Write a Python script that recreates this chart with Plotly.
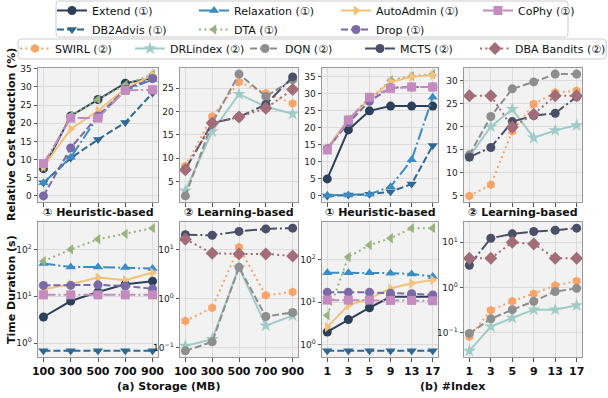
import plotly.graph_objects as go
import numpy as np

# ---------------- data ----------------
storage_mb = ["100", "300", "500", "700", "900"]
index_num = ["1", "3", "5", "9", "13", "17"]

# Relative cost reduction (%) vs storage budget, heuristic-based advisors
extend_cost_storage = [7.5, 22.0, 26.5, 31.0, 32.4]
db2advis_cost_storage = [3.6, 10.4, 15.5, 20.2, 28.3]
relaxation_cost_storage = [3.6, 10.6, 21.8, 29.0, 32.0]
dta_cost_storage = [8.0, 22.0, 26.5, 30.5, 33.5]
autoadmin_cost_storage = [8.0, 18.4, 23.4, 29.5, 33.2]
drop_cost_storage = [0.0, 13.2, 22.0, 29.3, 32.3]
cophy_cost_storage = [8.9, 21.4, 21.4, 29.0, 29.2]

# Relative cost reduction (%) vs storage budget, learning-based advisors
swirl_cost_storage = [8.3, 18.9, 26.3, 23.9, 21.7]
drlindex_cost_storage = [3.0, 15.7, 23.7, 21.0, 19.5]
dqn_cost_storage = [1.9, 17.5, 28.0, 23.2, 26.8]
mcts_cost_storage = [7.6, 17.5, 18.8, 21.5, 27.4]
dba_cost_storage = [7.5, 17.5, 18.8, 20.7, 24.7]

# Relative cost reduction (%) vs number of indexes, heuristic-based
extend_cost_index = [5.0, 19.4, 25.0, 26.4, 26.4, 26.4]
db2advis_cost_index = [0.0, 0.3, 0.5, 1.2, 3.5, 14.8]
relaxation_cost_index = [0.2, 0.3, 0.5, 2.7, 10.6, 29.0]
dta_cost_index = [14.0, 22.5, 28.3, 34.0, 35.2, 35.8]
autoadmin_cost_index = [14.0, 22.5, 28.5, 33.5, 35.0, 35.5]
drop_cost_index = [13.8, 21.5, 27.8, 31.8, 32.0, 32.0]
cophy_cost_index = [13.5, 22.3, 29.0, 31.6, 32.0, 32.0]

# Relative cost reduction (%) vs number of indexes, learning-based
swirl_cost_index = [5.0, 7.4, 19.0, 24.9, 27.4, 27.8]
drlindex_cost_index = [13.5, 20.0, 23.8, 17.6, 19.2, 20.3]
dqn_cost_index = [13.9, 22.2, 28.2, 29.7, 31.4, 31.4]
mcts_cost_index = [13.4, 15.5, 21.1, 22.4, 22.9, 26.5]
dba_cost_index = [26.7, 26.7, 19.9, 22.7, 26.7, 26.7]

# Time duration (s) vs storage budget, heuristic-based
extend_time_storage = [3.6, 7.9, 12.3, 18.0, 21.0]
db2advis_time_storage = [0.68, 0.68, 0.68, 0.68, 0.68]
relaxation_time_storage = [50, 42, 42, 41, 39]
dta_time_storage = [56, 100, 165, 215, 285]
autoadmin_time_storage = [14, 18, 25, 22, 32]
drop_time_storage = [17, 17, 17.5, 16.5, 14.4]
cophy_time_storage = [10.7, 10.7, 10.7, 10.7, 10.7]

# Time duration (s) vs storage budget, learning-based
swirl_time_storage = [0.35, 0.65, 11.4, 1.17, 1.37]
drlindex_time_storage = [0.107, 0.148, 4.4, 0.28, 0.45]
dqn_time_storage = [0.085, 0.13, 4.4, 0.43, 0.52]
mcts_time_storage = [20.5, 20.0, 24.0, 27.0, 28.0]
dba_time_storage = [16.6, 8.5, 8.3, 8.3, 7.5]

# Time duration (s) vs number of indexes, heuristic-based
extend_time_index = [2.0, 3.9, 7.4, 13.4, 13.4, 13.4]
db2advis_time_index = [0.72, 0.72, 0.72, 0.72, 0.72, 0.72]
relaxation_time_index = [49, 49, 49, 48, 46, 40]
dta_time_index = [4.9, 115, 218, 316, 546, 546]
autoadmin_time_index = [2.6, 8.5, 12.2, 21, 27.7, 33]
drop_time_index = [17, 17, 17, 16.3, 15.8, 14.7]
cophy_time_index = [11.2, 11.2, 11.2, 11.0, 11.0, 10.8]

# Time duration (s) vs number of indexes, learning-based
swirl_time_index = [0.08, 0.31, 0.49, 0.72, 1.1, 1.38]
drlindex_time_index = [0.039, 0.135, 0.21, 0.32, 0.32, 0.40]
dqn_time_index = [0.095, 0.2, 0.32, 0.49, 0.81, 0.95]
mcts_time_index = [3.1, 12.3, 15.4, 17.3, 18.5, 20.6]
dba_time_index = [4.4, 4.4, 10.0, 9.2, 4.4, 4.4]

# ---------------- styles ----------------
DASH = "7px,3px"
DOT = "2px,3.3px"
DASHDOT = "12px,3px,2px,3px"
STYLE = {
    "Extend (①)": dict(color="#2c4159", dash="solid", symbol="circle", size=9, rank=1),
    "Relaxation (①)": dict(color="#3b8cc3", dash=DASHDOT, symbol="triangle-up", size=9, rank=2),
    "AutoAdmin (①)": dict(color="#f2c27a", dash="solid", symbol="triangle-right", size=9, rank=3),
    "CoPhy (①)": dict(color="#c48bbf", dash=DASHDOT, symbol="square", size=9, rank=4),
    "DB2Advis (①)": dict(color="#2f6892", dash=DASH, symbol="triangle-down", size=9, rank=5),
    "DTA (①)": dict(color="#9ab27e", dash=DOT, symbol="triangle-left", size=9, rank=6),
    "Drop (①)": dict(color="#7b6aa8", dash=DASH, symbol="circle", size=9, rank=7),
    "SWIRL (②)": dict(color="#f9a466", dash=DOT, symbol="hexagon", size=9, rank=1),
    "DRLindex (②)": dict(color="#a1cbc6", dash="solid", symbol="star", size=10, rank=2),
    "DQN (②)": dict(color="#8e8e8e", dash=DASH, symbol="circle", size=9, rank=3),
    "MCTS (②)": dict(color="#4b5068", dash=DASHDOT, symbol="circle", size=9, rank=4),
    "DBA Bandits (②)": dict(color="#a26d78", dash=DOT, symbol="diamond", size=10, rank=5, lw=98),
}

# panels: (x categories, log-scale?, [(name, values) in drawing order])
panels = [
    (storage_mb, False, [("Extend (①)", extend_cost_storage), ("DB2Advis (①)", db2advis_cost_storage),
                         ("Relaxation (①)", relaxation_cost_storage), ("DTA (①)", dta_cost_storage),
                         ("AutoAdmin (①)", autoadmin_cost_storage), ("Drop (①)", drop_cost_storage),
                         ("CoPhy (①)", cophy_cost_storage)]),
    (storage_mb, False, [("SWIRL (②)", swirl_cost_storage), ("DRLindex (②)", drlindex_cost_storage),
                         ("DQN (②)", dqn_cost_storage), ("MCTS (②)", mcts_cost_storage),
                         ("DBA Bandits (②)", dba_cost_storage)]),
    (index_num, False, [("Extend (①)", extend_cost_index), ("DB2Advis (①)", db2advis_cost_index),
                        ("Relaxation (①)", relaxation_cost_index), ("DTA (①)", dta_cost_index),
                        ("AutoAdmin (①)", autoadmin_cost_index), ("Drop (①)", drop_cost_index),
                        ("CoPhy (①)", cophy_cost_index)]),
    (index_num, False, [("SWIRL (②)", swirl_cost_index), ("DRLindex (②)", drlindex_cost_index),
                        ("DQN (②)", dqn_cost_index), ("MCTS (②)", mcts_cost_index),
                        ("DBA Bandits (②)", dba_cost_index)]),
    (storage_mb, True, [("Extend (①)", extend_time_storage), ("DB2Advis (①)", db2advis_time_storage),
                        ("Relaxation (①)", relaxation_time_storage), ("DTA (①)", dta_time_storage),
                        ("AutoAdmin (①)", autoadmin_time_storage), ("Drop (①)", drop_time_storage),
                        ("CoPhy (①)", cophy_time_storage)]),
    (storage_mb, True, [("SWIRL (②)", swirl_time_storage), ("DRLindex (②)", drlindex_time_storage),
                        ("DQN (②)", dqn_time_storage), ("MCTS (②)", mcts_time_storage),
                        ("DBA Bandits (②)", dba_time_storage)]),
    (index_num, True, [("Extend (①)", extend_time_index), ("DB2Advis (①)", db2advis_time_index),
                       ("Relaxation (①)", relaxation_time_index), ("DTA (①)", dta_time_index),
                       ("AutoAdmin (①)", autoadmin_time_index), ("Drop (①)", drop_time_index),
                       ("CoPhy (①)", cophy_time_index)]),
    (index_num, True, [("SWIRL (②)", swirl_time_index), ("DRLindex (②)", drlindex_time_index),
                       ("DQN (②)", dqn_time_index), ("MCTS (②)", mcts_time_index),
                       ("DBA Bandits (②)", dba_time_index)]),
]

# ---------------- layout geometry (pixels) ----------------
W, H = 608, 398
COLS = [(38, 158), (180, 298), (322, 438), (464, 582)]
ROWS = [(68, 202), (222, 357)]
FONT = "DejaVu Sans"
SUP = {-1: "10<sup>−1</sup>", 0: "10<sup>0</sup>", 1: "10<sup>1</sup>", 2: "10<sup>2</sup>", 3: "10<sup>3</sup>"}

fig = go.Figure()
layout = {}
shown = set()

for i, (cats, is_log, series) in enumerate(panels):
    row, col = divmod(i, 4)
    xa, ya = f"x{i+1}", f"y{i+1}"
    for name, vals in series:
        st = STYLE[name]
        heur = "①" in name
        show = name not in shown
        shown.add(name)
        fig.add_trace(go.Scatter(
            x=cats, y=vals, name=name, mode="lines+markers",
            xaxis=xa, yaxis=ya,
            legend="legend" if heur else "legend2",
            legendrank=st["rank"], showlegend=show,
            legendwidth=st.get("lw"),
            line=dict(color=st["color"], width=2, dash=st["dash"]),
            marker=dict(color=st["color"], symbol=st["symbol"], size=st["size"]),
        ))

    allv = np.concatenate([np.asarray(v, float) for _, v in series])
    if is_log:
        lo, hi = np.log10(allv.min()), np.log10(allv.max())
    else:
        lo, hi = allv.min(), allv.max()
    pad = 0.05 * (hi - lo)
    yrange = [lo - pad, hi + pad]

    n = len(cats)
    xl, xr = COLS[col]
    yt, yb = ROWS[row]
    xaxis = dict(
        domain=[xl / W, xr / W], anchor=ya, type="category",
        range=[-0.05 * (n - 1), (n - 1) * 1.05],
        showline=True, mirror=True, linecolor="#9a9a9a", linewidth=1,
        showgrid=True, gridcolor="#dcdcdc", gridwidth=1,
        ticks="outside", ticklen=3.5, tickcolor="#555555",
        showticklabels=(row == 1),
        tickfont=dict(family=FONT, size=11, color="#111111", weight="bold"),
        zeroline=False,
    )
    yaxis = dict(
        domain=[1 - yb / H, 1 - yt / H], anchor=xa,
        range=yrange,
        showline=True, mirror=True, linecolor="#9a9a9a", linewidth=1,
        showgrid=True, gridcolor="#dcdcdc", gridwidth=1,
        ticks="outside", ticklen=3.5, tickcolor="#555555",
        tickfont=dict(family=FONT, size=9, color="#222222"),
        zeroline=False,
    )
    if is_log:
        exps = [e for e in range(-1, 4) if yrange[0] <= e <= yrange[1]]
        yaxis.update(type="log", tickvals=[10.0 ** e for e in exps], ticktext=[SUP[e] for e in exps])
    else:
        yaxis.update(tick0=0, dtick=5)
    layout[f"xaxis{i+1}" if i else "xaxis"] = xaxis
    layout[f"yaxis{i+1}" if i else "yaxis"] = yaxis

annotations = []
bold = dict(family=FONT, size=11, color="#111111", weight="bold")
for col, title in enumerate(["① Heuristic-based", "② Learning-based", "① Heuristic-based", "② Learning-based"]):
    xl, xr = COLS[col]
    annotations.append(dict(text=title, x=(xl + xr) / 2 / W, y=1 - 212 / H, xref="paper", yref="paper",
                            xanchor="center", yanchor="middle", showarrow=False, font=bold))
annotations.append(dict(text="(a) Storage (MB)", x=(COLS[0][0] + COLS[1][1]) / 2 / W, y=1 - 386 / H,
                        xref="paper", yref="paper", xanchor="center", yanchor="middle", showarrow=False, font=bold))
annotations.append(dict(text="(b) #Index", x=(COLS[2][0] + COLS[3][1]) / 2 / W, y=1 - 386 / H,
                        xref="paper", yref="paper", xanchor="center", yanchor="middle", showarrow=False, font=bold))
annotations.append(dict(text="Relative Cost Reduction (%)", x=11 / W, y=1 - 135 / H, textangle=-90,
                        xref="paper", yref="paper", xanchor="center", yanchor="middle", showarrow=False, font=bold))
annotations.append(dict(text="Time Duration (s)", x=11 / W, y=1 - 290 / H, textangle=-90,
                        xref="paper", yref="paper", xanchor="center", yanchor="middle", showarrow=False, font=bold))


def rounded_box(x0, y0, x1, y1, r=3):
    """Rounded rectangle path in paper coordinates from pixel corners."""
    X = lambda v: v / W
    Y = lambda v: 1 - v / H
    return (f"M{X(x0 + r)},{Y(y0)} L{X(x1 - r)},{Y(y0)} Q{X(x1)},{Y(y0)} {X(x1)},{Y(y0 + r)} "
            f"L{X(x1)},{Y(y1 - r)} Q{X(x1)},{Y(y1)} {X(x1 - r)},{Y(y1)} "
            f"L{X(x0 + r)},{Y(y1)} Q{X(x0)},{Y(y1)} {X(x0)},{Y(y1 - r)} "
            f"L{X(x0)},{Y(y0 + r)} Q{X(x0)},{Y(y0)} {X(x0 + r)},{Y(y0)} Z")


# legend frames
shapes = [
    dict(type="path", xref="paper", yref="paper", path=rounded_box(56, 1, 568, 37),
         line=dict(color="#cccccc", width=1), fillcolor="white", layer="above"),
    dict(type="path", xref="paper", yref="paper", path=rounded_box(18, 39, 606, 59),
         line=dict(color="#cccccc", width=1), fillcolor="white", layer="above"),
]

legend_font = dict(family=FONT, size=11, color="#111111")
fig.update_layout(
    **layout,
    width=W, height=H,
    margin=dict(l=0, r=0, t=0, b=0, autoexpand=False),
    paper_bgcolor="white", plot_bgcolor="#f2f2f2",
    font=dict(family=FONT, color="#111111"),
    annotations=annotations,
    shapes=shapes,
    legend=dict(x=52 / W, y=1 + 4 / H, xanchor="left", yanchor="top", orientation="h",
                entrywidth=97, traceorder="normal", bgcolor="rgba(0,0,0,0)",
                borderwidth=0, font=legend_font),
    legend2=dict(x=15 / W, y=1 - 34 / H, xanchor="left", yanchor="top", orientation="h",
                 entrywidth=70, traceorder="normal", bgcolor="rgba(0,0,0,0)",
                 borderwidth=0, font=legend_font),
)

fig.write_html("out.html")
